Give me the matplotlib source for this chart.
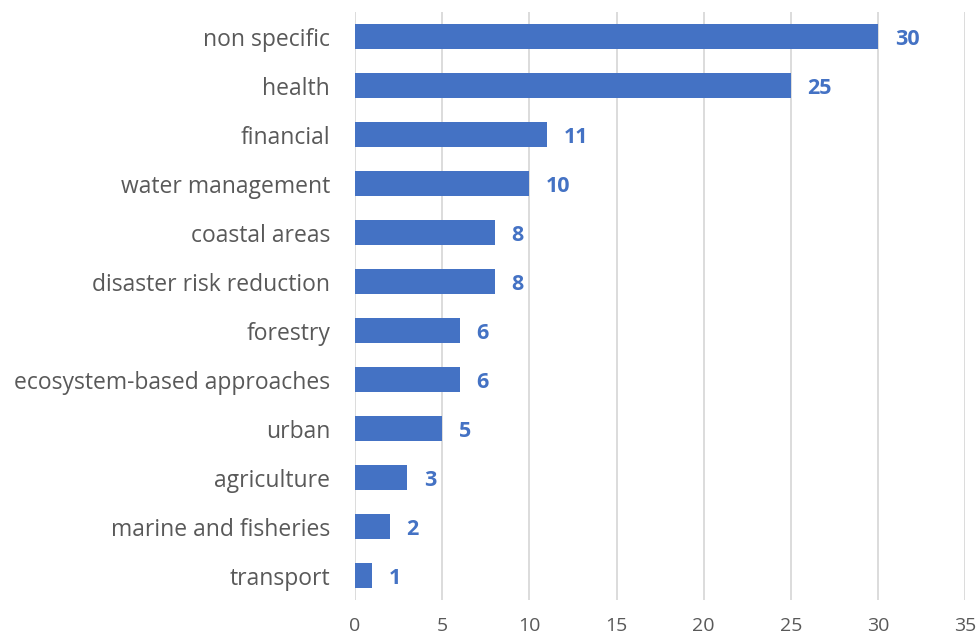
import matplotlib.pyplot as plt

categories = ['non specific', 'health', 'financial', 'water management', 'coastal areas',
              'disaster risk reduction', 'forestry', 'ecosystem-based approaches', 'urban',
              'agriculture', 'marine and fisheries', 'transport']
counts = [30, 25, 11, 10, 8, 8, 6, 6, 5, 3, 2, 1]
xticks = [0, 5, 10, 15, 20, 25, 30, 35]

bar_color = '#4472C4'
text_color = '#595959'

plt.rcParams['font.family'] = ['Open Sans', 'DejaVu Sans']

fig = plt.figure(figsize=(9.78, 6.39), dpi=100)
ax = fig.add_axes([0.363, 0.061, 0.624, 0.92])

ypos = list(range(len(categories)))[::-1]
ax.barh(ypos, counts, height=0.5, color=bar_color, zorder=3)
for y, v in zip(ypos, counts):
    ax.text(v + 0.95, y, str(v), va='center_baseline', ha='left', color=bar_color,
            fontsize=15.5, fontweight='bold')

ax.set_ylim(-0.5, len(categories) - 0.5)
ax.set_xlim(0, 35)
ax.set_xticks(xticks)
ax.set_yticks(ypos)
ax.set_yticklabels(categories)
ax.tick_params(axis='y', length=0, labelsize=16.5, labelcolor=text_color, pad=18)
ax.tick_params(axis='x', length=0, labelsize=14, labelcolor=text_color, pad=12)
ax.grid(axis='x', color='#D9D9D9', linewidth=1.3, zorder=0)
for s in ax.spines.values():
    s.set_visible(False)

fig.savefig('out.png', dpi=100)
